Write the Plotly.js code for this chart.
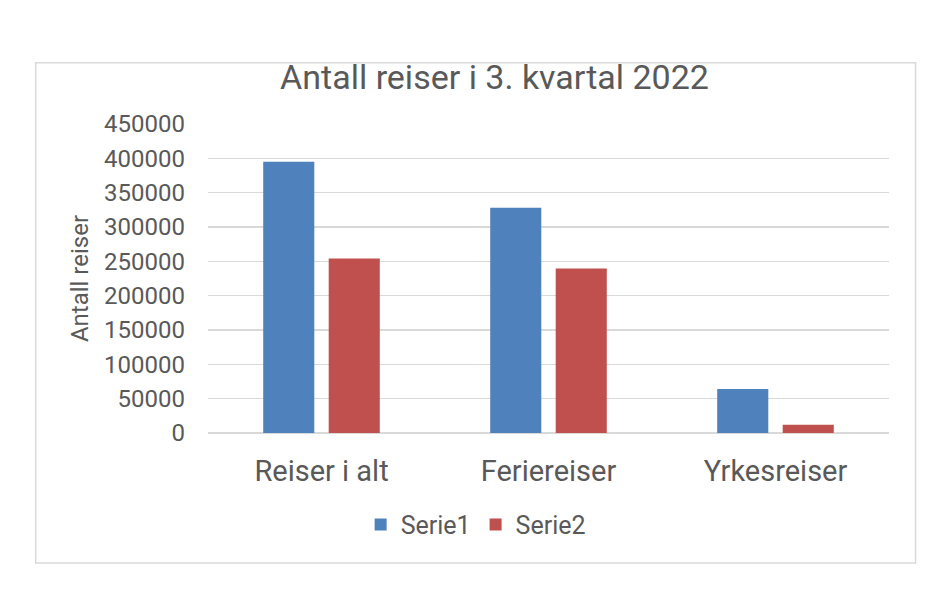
<!DOCTYPE html>
<html>
<head>
<meta charset="utf-8">
<script src="https://cdn.plot.ly/plotly-3.0.1.min.js"></script>
<style>
  html, body { margin: 0; padding: 0; background: #fff; }
  #chart { width: 951px; height: 601px; }
</style>
</head>
<body>
<div id="chart"></div>
<script>
// Data
const categories = ["Reiser i alt", "Feriereiser", "Yrkesreiser"];
const serie1 = [395000, 328000, 64000];
const serie2 = [254000, 239500, 12000];
const seriesNames = ["Serie1", "Serie2"];
const yTicks = [0, 50000, 100000, 150000, 200000, 250000, 300000, 350000, 400000, 450000];

const textColor = "#595959";
const font = "Roboto, 'Liberation Sans', sans-serif";

var trace1 = {
    x: categories,
    y: serie1,
    type: 'bar',
    name: seriesNames[0],
    marker: { color: '#4F81BD' },
    hoverinfo: 'none'
};

var trace2 = {
    x: categories,
    y: serie2,
    type: 'bar',
    name: seriesNames[1],
    marker: { color: '#C0504D' },
    hoverinfo: 'none'
};

var layout = {
    width: 951,
    height: 601,
    margin: { l: 208, r: 62, t: 124, b: 168 },
    paper_bgcolor: '#ffffff',
    plot_bgcolor: '#ffffff',
    font: { family: font, color: textColor },
    barmode: 'group',
    bargap: 0.423,
    bargroupgap: 0.22,
    title: {
        text: "Antall reiser i 3. kvartal 2022",
        font: { size: 34, color: textColor, family: font },
        xref: 'container',
        x: 0.52,
        xanchor: 'center',
        yref: 'container',
        y: 0.872,
        yanchor: 'middle'
    },
    xaxis: {
        type: 'category',
        tickfont: { size: 29, color: textColor },
        showgrid: false,
        showline: false,
        ticks: '',
        ticklabelstandoff: 18,
        fixedrange: true
    },
    yaxis: {
        range: [0, 450000],
        tickvals: yTicks,
        ticktext: yTicks.map(String),
        tickfont: { size: 24, color: textColor },
        showgrid: true,
        gridcolor: '#D9D9D9',
        gridwidth: 1.5,
        zeroline: true,
        zerolinecolor: '#D9D9D9',
        zerolinewidth: 1.5,
        showline: false,
        ticks: '',
        ticklabelstandoff: 22,
        automargin: false,
        title: {
            text: "Antall reiser",
            font: { size: 24, color: textColor },
            standoff: 8
        },
        fixedrange: true
    },
    legend: {
        orientation: 'h',
        x: 0.393,
        xanchor: 'center',
        y: -0.297,
        yanchor: 'middle',
        font: { size: 25, color: textColor },
        itemwidth: 30,
        traceorder: 'normal'
    },
    shapes: [{
        type: 'rect',
        xref: 'paper',
        yref: 'paper',
        x0: -0.253,
        x1: 1.039,
        y0: -0.4207,
        y1: 1.198,
        line: { color: '#D9D9D9', width: 1.5 },
        fillcolor: 'rgba(0,0,0,0)',
        layer: 'below'
    }]
};

Plotly.newPlot('chart', [trace1, trace2], layout, { displayModeBar: false, staticPlot: true });
</script>
</body>
</html>
